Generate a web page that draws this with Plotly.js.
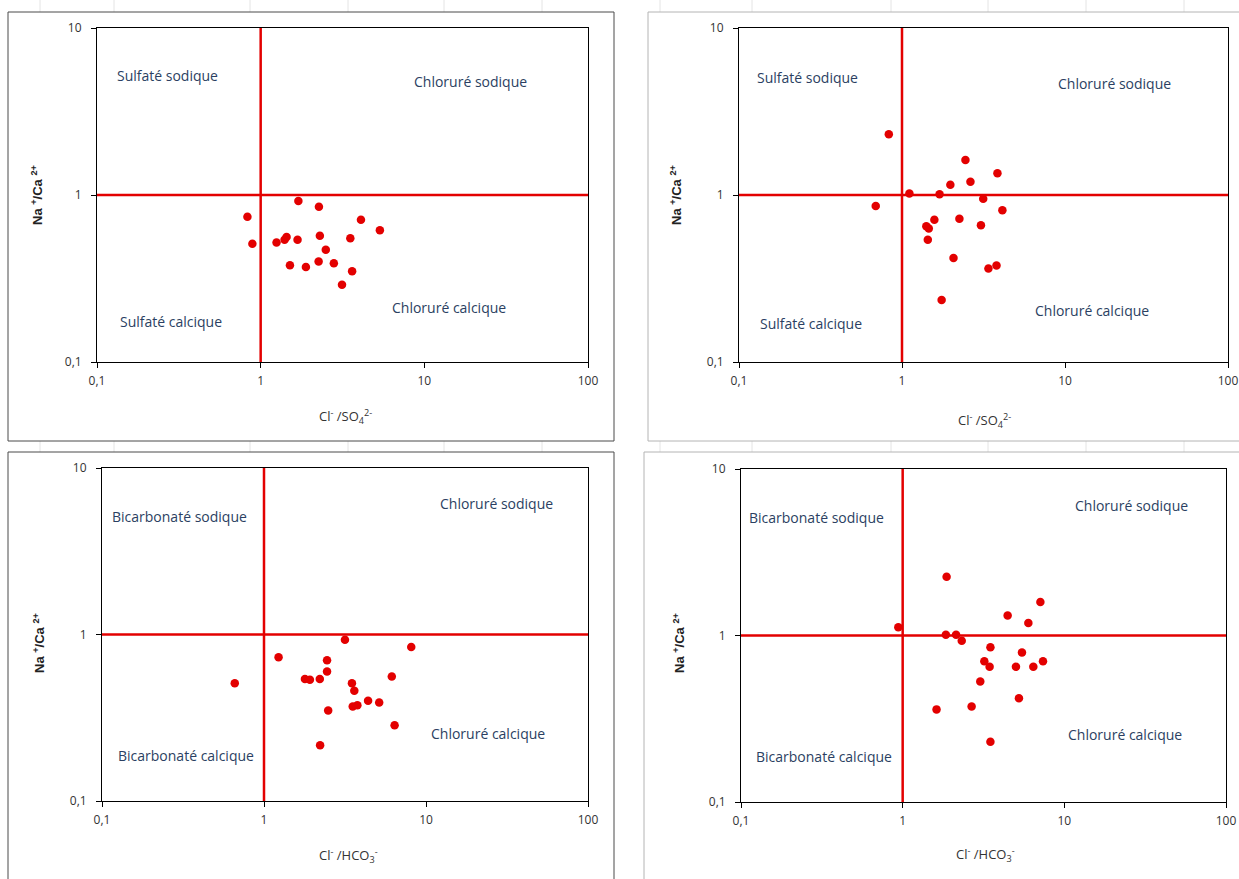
<!DOCTYPE html>
<html>
<head>
<meta charset="utf-8">
<script src="https://cdn.plot.ly/plotly-3.0.1.min.js"></script>
<style>html,body{margin:0;padding:0;background:#fff;}#chart{width:1239px;height:879px;}</style>
</head>
<body>
<div id="chart"></div>
<script>
// ---- data ----
const xTickVals = [0.1, 1, 10, 100];
const xTickText = ['0,1', '1', '10', '100'];
const yTickVals = [0.1, 1, 10];
const yTickText = ['0,1', '1', '10'];

// Panel 1 : Cl-/SO4 2- vs Na+/Ca2+ (left)
const p1x = [0.83, 0.89, 1.25, 1.40, 1.44, 1.68, 1.70, 1.51, 1.89, 2.27, 2.30, 2.50, 2.26, 2.80, 3.14, 3.53, 3.62, 4.10, 5.35];
const p1y = [0.74, 0.51, 0.52, 0.54, 0.56, 0.54, 0.92, 0.38, 0.37, 0.85, 0.57, 0.47, 0.40, 0.39, 0.29, 0.55, 0.35, 0.71, 0.615];
// Panel 2 : Cl-/SO4 2- vs Na+/Ca2+ (right)
const p2x = [0.83, 0.69, 1.11, 1.70, 1.98, 2.45, 2.63, 3.85, 3.15, 4.13, 1.58, 1.41, 1.46, 1.44, 2.25, 3.05, 2.07, 3.39, 3.80, 1.75];
const p2y = [2.31, 0.86, 1.02, 1.01, 1.15, 1.62, 1.20, 1.35, 0.95, 0.81, 0.71, 0.65, 0.63, 0.54, 0.72, 0.66, 0.42, 0.363, 0.378, 0.235];
// Panel 3 : Cl-/HCO3- vs Na+/Ca2+ (left)
const p3x = [0.66, 1.23, 3.16, 8.11, 2.45, 2.45, 1.79, 1.92, 2.21, 3.49, 3.61, 6.15, 3.53, 3.77, 4.39, 5.14, 2.49, 6.40, 2.22];
const p3y = [0.51, 0.73, 0.93, 0.84, 0.70, 0.60, 0.54, 0.535, 0.54, 0.51, 0.46, 0.56, 0.37, 0.376, 0.40, 0.39, 0.35, 0.285, 0.216];
// Panel 4 : Cl-/HCO3- vs Na+/Ca2+ (right)
const p4x = [0.94, 1.87, 1.85, 2.14, 2.32, 4.46, 5.99, 7.11, 3.49, 5.47, 3.20, 3.45, 5.02, 6.43, 7.38, 3.02, 5.24, 1.62, 2.67, 3.49];
const p4y = [1.12, 2.25, 1.01, 1.01, 0.93, 1.32, 1.19, 1.59, 0.85, 0.79, 0.70, 0.65, 0.65, 0.65, 0.70, 0.53, 0.42, 0.36, 0.375, 0.23];

const refX = [0.1, 100];   // horizontal boundary Na/Ca = 1
const refY = [0.1, 10];    // vertical boundary Cl/X = 1
const boundary = 1;

const xTitleSO4 = 'Cl<sup>-</sup> /SO<sub>4</sub><sup>2-</sup>';
const xTitleHCO3 = 'Cl<sup>-</sup> /HCO<sub>3</sub><sup>-</sup>';
const yTitle = '<b>Na <sup>+</sup>/Ca <sup>2+</sup></b>';
const labelsSO4 = ['Sulfaté sodique', 'Chloruré sodique', 'Sulfaté calcique', 'Chloruré calcique'];
const labelsHCO3 = ['Bicarbonaté sodique', 'Chloruré sodique', 'Bicarbonaté calcique', 'Chloruré calcique'];

// ---- layout helpers ----
const W = 1239, H = 879;
const px = v => v / W;
const py = v => 1 - v / H;

const RED = '#e30000';
const TEXT = '#2b3f62';
const FONT = 'Open Sans, Noto Sans, sans-serif';

const panels = [
  {x: p1x, y: p1y, xa: 'x', ya: 'y', dx: [97, 588], dy: [28, 362]},
  {x: p2x, y: p2y, xa: 'x2', ya: 'y2', dx: [739, 1228], dy: [28, 362]},
  {x: p3x, y: p3y, xa: 'x3', ya: 'y3', dx: [102, 588], dy: [468, 801]},
  {x: p4x, y: p4y, xa: 'x4', ya: 'y4', dx: [741, 1226], dy: [469, 802]}
];

const traces = [];
panels.forEach(p => {
  traces.push({type: 'scatter', mode: 'lines', x: refX, y: [boundary, boundary], xaxis: p.xa, yaxis: p.ya,
    line: {color: RED, width: 2.5}, hoverinfo: 'skip', showlegend: false});
  traces.push({type: 'scatter', mode: 'lines', x: [boundary, boundary], y: refY, xaxis: p.xa, yaxis: p.ya,
    line: {color: RED, width: 2.5}, hoverinfo: 'skip', showlegend: false});
  traces.push({type: 'scatter', mode: 'markers', x: p.x, y: p.y, xaxis: p.xa, yaxis: p.ya,
    marker: {color: RED, size: 8.5, line: {width: 0}}, showlegend: false, cliponaxis: false});
});

const layout = {
  width: W, height: H,
  margin: {l: 0, r: 0, t: 0, b: 0},
  paper_bgcolor: '#ffffff',
  plot_bgcolor: 'rgba(0,0,0,0)',
  showlegend: false,
  font: {family: FONT, color: '#333'},
  shapes: [],
  annotations: []
};

function axisX(dom) {
  return {type: 'log', range: [-1, 2], domain: dom, tickvals: xTickVals, ticktext: xTickText,
    showline: true, mirror: true, linecolor: '#000', linewidth: 1, ticks: 'outside', ticklen: 5,
    tickcolor: '#000', showgrid: false, zeroline: false, ticklabelstandoff: 3,
    tickfont: {family: FONT, size: 12, color: '#333'}};
}
function axisY(dom, anchor) {
  return {type: 'log', range: [-1, 1], domain: dom, tickvals: yTickVals, ticktext: yTickText,
    showline: true, mirror: true, linecolor: '#000', linewidth: 1, ticks: 'outside', ticklen: 5,
    tickcolor: '#000', showgrid: false, zeroline: false, anchor: anchor, ticklabelstandoff: 7,
    tickfont: {family: FONT, size: 12, color: '#333'}};
}
const names = ['', '2', '3', '4'];
panels.forEach((p, i) => {
  const n = names[i];
  const xd = [px(p.dx[0]), px(p.dx[1])];
  const yd = [py(p.dy[1]), py(p.dy[0])];
  const xa = axisX(xd); xa.anchor = 'y' + n;
  layout['xaxis' + n] = xa;
  layout['yaxis' + n] = axisY(yd, 'x' + n);
});

// faint spreadsheet grid (background)
const gridCols = [40, 114, 250, 348, 444, 542, 660, 752, 891, 988, 1086, 1184];
gridCols.forEach(c => layout.shapes.push({type: 'line', xref: 'paper', yref: 'paper', x0: px(c), x1: px(c), y0: 0, y1: 1,
  line: {color: '#e4e4e4', width: 1}, layer: 'below'}));
// chart-area boxes
const boxes = [
  {x0: 8, x1: 614, y0: 12, y1: 441, c: '#4a4a4a'},
  {x0: 648, x1: 1250, y0: 12, y1: 441, c: '#b4b4b4'},
  {x0: 8, x1: 614, y0: 452, y1: 890, c: '#4a4a4a'},
  {x0: 644, x1: 1250, y0: 452, y1: 890, c: '#b4b4b4'}
];
boxes.forEach(b => layout.shapes.push({type: 'rect', xref: 'paper', yref: 'paper', x0: px(b.x0), x1: px(b.x1),
  y0: py(b.y1), y1: py(b.y0), line: {color: b.c, width: 1}, fillcolor: '#ffffff', layer: 'below'}));

function lbl(text, x, y, size, color, extra) {
  layout.annotations.push(Object.assign({text: text, xref: 'paper', yref: 'paper', x: px(x), y: py(y),
    xanchor: 'center', yanchor: 'middle', showarrow: false, font: {family: FONT, size: size, color: color}}, extra || {}));
}
// quadrant labels
const quadPos = [
  [[167, 76], [470, 82], [171, 321], [449, 308]],
  [[807, 77], [1114, 83], [811, 323], [1092, 310]],
  [[179, 516], [496, 503], [186, 755], [488, 733]],
  [[816, 517], [1131, 505], [824, 756], [1125, 734]]
];
const quadLabels = [labelsSO4, labelsSO4, labelsHCO3, labelsHCO3];
quadPos.forEach((pp, i) => pp.forEach((pt, j) => lbl(quadLabels[i][j], pt[0], pt[1], 14, TEXT)));

// axis titles
lbl(xTitleSO4, 345, 417, 13, '#333');
lbl(xTitleSO4, 984, 421, 13, '#333');
lbl(xTitleHCO3, 348, 855, 13, '#333');
lbl(xTitleHCO3, 985, 854, 13, '#333');
const yTitlePos = [[37, 195], [676, 195], [39, 643], [679, 643]];
yTitlePos.forEach(p => lbl(yTitle, p[0], p[1], 13, '#222', {textangle: -90, font: {family: 'Liberation Sans, Arial, sans-serif', size: 13, color: '#222'}}));

Plotly.newPlot('chart', traces, layout, {displayModeBar: false, staticPlot: true});
</script>
</body>
</html>
